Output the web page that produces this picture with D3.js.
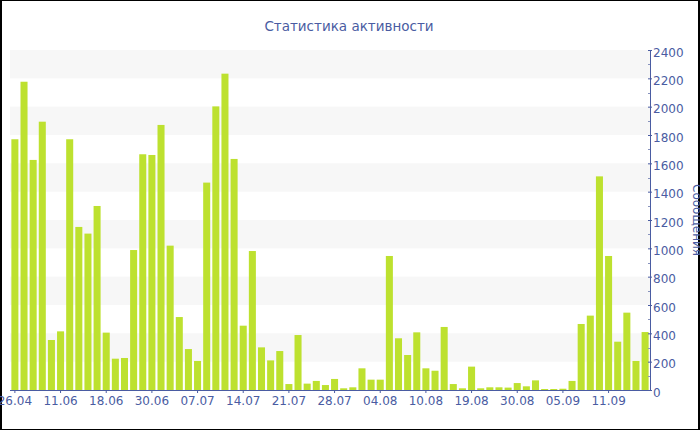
<!DOCTYPE html>
<html><head><meta charset="utf-8">
<script src="https://cdn.jsdelivr.net/npm/d3@7"></script>
<style>html,body{margin:0;padding:0;background:#fff;}svg{display:block;font-family:"DejaVu Sans",Verdana,sans-serif;}</style>
</head><body><svg id="c" width="700" height="430"></svg>
<script>
const values = [1770, 2176, 1624, 1894, 353, 414, 1770, 1151, 1104, 1299,
  405, 221, 226, 988, 1664, 1659, 1871, 1019, 515, 289,
  205, 1464, 2002, 2233, 1631, 454, 981, 301, 209, 275,
  42, 388, 45, 64, 35, 78, 12, 19, 153, 73,
  73, 946, 365, 247, 407, 153, 136, 445, 42, 12,
  165, 12, 19, 19, 17, 49, 26, 68, 7, 7,
  9, 64, 466, 525, 1508, 946, 341, 546, 205, 409];
const categories = values.map((v, i) => i);
const tickLabels = ["26.04","11.06","18.06","30.06","07.07","14.07","21.07","28.07","04.08","10.08","19.08","30.08","05.09","11.09"];
const yTicks = [0,200,400,600,800,1000,1200,1400,1600,1800,2000,2200,2400];
const title = "Статистика активности";
const yTitle = "Сообщения";

const axisColor = "#4a5ca2";
const W = 700, H = 430;
const L = 10, R = 650, T = 50, B = 390;
const svg = d3.select("#c");

const x = d3.scaleBand().domain(categories).range([L, R]).paddingInner(0.23).paddingOuter(0.15);
const y = d3.scaleLinear().domain([0, 2400]).range([B, T]);

// alternating bands
for (let i = 0; i < yTicks.length - 1; i++) {
  if (i % 2 === 1) {
    svg.append("rect").attr("x", L).attr("width", R - L)
      .attr("y", y(yTicks[i + 1])).attr("height", y(yTicks[i]) - y(yTicks[i + 1]))
      .attr("fill", "#f7f7f7");
  }
}

// border
svg.append("rect").attr("x", 0).attr("y", 0).attr("width", 2).attr("height", H).attr("fill", "#000");
svg.append("rect").attr("x", 0).attr("y", 0).attr("width", W).attr("height", 1).attr("fill", "#000");
svg.append("rect").attr("x", W - 2).attr("y", 0).attr("width", 2).attr("height", H).attr("fill", "#000");
svg.append("rect").attr("x", 0).attr("y", H - 1).attr("width", W).attr("height", 1).attr("fill", "#000");

// bars
svg.append("g").selectAll("rect").data(values).join("rect")
  .attr("x", (d, i) => x(categories[i]))
  .attr("width", x.bandwidth())
  .attr("y", d => y(d))
  .attr("height", d => B - y(d))
  .attr("fill", "#bde12f");

// x axis
const xAxis = d3.axisBottom(x)
  .tickValues(categories.filter(i => i % 5 === 0))
  .tickFormat(i => tickLabels[i / 5])
  .tickSize(3).tickSizeOuter(0).tickPadding(3.5);
const gx = svg.append("g").attr("transform", `translate(0,${B})`).call(xAxis);
gx.select(".domain").attr("stroke", axisColor).attr("d", `M${L},0.5H${R}`);
gx.selectAll(".tick line").attr("stroke", axisColor);
gx.selectAll(".tick text").attr("fill", axisColor).attr("font-size", 12).attr("font-family", "DejaVu Sans");

// minor ticks on y
const minor = d3.range(100, 2400, 200);
svg.append("g").selectAll("line").data(minor).join("line")
  .attr("x1", R - 2).attr("x2", R + 1)
  .attr("y1", d => Math.round(y(d)) + 0.5).attr("y2", d => Math.round(y(d)) + 0.5)
  .attr("stroke", "#8893bd");

// y axis right
const yAxis = d3.axisRight(y).tickValues(yTicks).tickFormat(d3.format("d")).tickSize(2).tickPadding(1).tickSizeOuter(0);
const gy = svg.append("g").attr("transform", `translate(${R},0)`).call(yAxis);
gy.select(".domain").attr("stroke", axisColor);
gy.selectAll(".tick line").attr("stroke", axisColor).attr("x1", -2);
gy.selectAll(".tick text").attr("fill", axisColor).attr("font-size", 12).attr("font-family", "DejaVu Sans").attr("dy", "0.5em");

// titles
svg.append("text").attr("x", 349).attr("y", 31).attr("text-anchor", "middle")
  .attr("font-size", 13.5).attr("fill", axisColor).text(title);
svg.append("text").attr("transform", `translate(693,${(T + B) / 2}) rotate(90)`)
  .attr("text-anchor", "middle").attr("font-size", 12).attr("fill", axisColor).text(yTitle);
</script></body></html>
